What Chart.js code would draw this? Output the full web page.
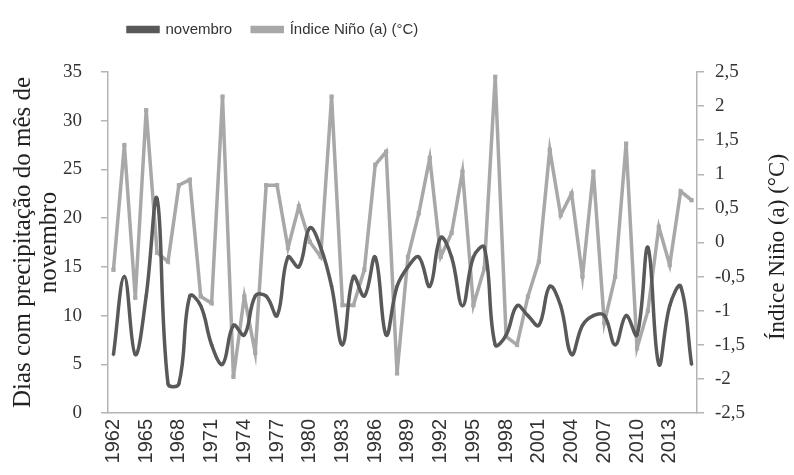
<!DOCTYPE html>
<html lang="pt-BR">
<head>
    <meta charset="UTF-8">
    <title>Dias com precipitação em novembro e Índice Niño</title>
    <script src="https://cdn.jsdelivr.net/npm/chart.js"></script>
    <style>
        body {
            margin: 0;
            background: #ffffff;
        }
    </style>
</head>
<body>
    <canvas id="grafico" width="794" height="475"></canvas>

    <script>
        // Anos (1962 a 2015)
        const anos = [];
        for (let a = 1962; a <= 2015; a++) anos.push(String(a));

        // Dias com precipitação no mês de novembro
        const novembro = [
            6, 14, 6, 12, 22, 3, 3, 12, 11, 7,
            5, 9, 8, 12, 12, 10, 16, 15, 19, 17,
            13, 7, 14, 12, 16, 8, 13, 15, 16, 13,
            18, 16, 11, 16, 17, 7, 8, 11, 10, 9,
            13, 11, 6, 9, 10, 10, 7, 10, 8, 17,
            5, 11, 13, 5
        ];

        // Índice Niño (a) em °C
        const indiceNino = [
            -0.40, 1.43, -0.81, 1.94, -0.15, -0.28, 0.84, 0.92, -0.79, -0.89,
            2.14, -1.97, -0.79, -1.62, 0.84, 0.84, -0.08, 0.53, 0.01, -0.21,
            2.14, -0.92, -0.92, -0.40, 1.14, 1.33, -1.92, -0.21, 0.43, 1.24,
            -0.21, 0.14, 1.04, -0.92, -0.38, 2.43, -1.38, -1.50, -0.79, -0.28,
            1.36, 0.40, 0.72, -0.50, 1.04, -1.18, -0.50, 1.45, -1.55, -1.00,
            0.23, -0.33, 0.75, 0.62
        ];

        const corEscura = '#595959';
        const corClara = '#a8a8a8';
        const corEixo = '#b4b4b4';
        const serif = "'Liberation Serif', 'Times New Roman', serif";
        const sans = "'Liberation Sans', Arial, sans-serif";

        // Sobe a legenda para o topo (fica alinhada à área do gráfico)
        const ajusteLegenda = {
            id: 'ajusteLegenda',
            afterLayout(chart) {
                const leg = chart.legend;
                if (leg) {
                    const d = leg.top - 2;
                    leg.top -= d;
                    leg.bottom -= d;
                }
            }
        };

        // Título do eixo direito, lido de baixo para cima
        const tituloDireito = {
            id: 'tituloDireito',
            afterDraw(chart) {
                const c = chart.ctx;
                c.save();
                c.translate(778, 247);
                c.rotate(-Math.PI / 2);
                c.font = '23px ' + serif;
                c.fillStyle = '#222';
                c.textAlign = 'center';
                c.textBaseline = 'middle';
                c.fillText('Índice Niño (a) (°C)', 0, 0);
                c.restore();
            }
        };

        const ctx = document.getElementById('grafico').getContext('2d');
        new Chart(ctx, {
            type: 'line',
            data: {
                labels: anos,
                datasets: [{
                    label: 'novembro',
                    data: novembro,
                    yAxisID: 'y',
                    borderColor: corEscura,
                    backgroundColor: corEscura,
                    borderWidth: 3.5,
                    tension: 0.4,
                    pointStyle: 'rectRot',
                    pointRadius: 2,
                    pointBorderWidth: 0
                }, {
                    label: 'Índice Niño (a) (°C)',
                    data: indiceNino,
                    yAxisID: 'y1',
                    borderColor: corClara,
                    backgroundColor: corClara,
                    borderWidth: 3.5,
                    tension: 0,
                    pointStyle: 'rect',
                    pointRadius: 3,
                    pointBorderWidth: 0
                }]
            },
            options: {
                responsive: false,
                animation: false,
                layout: { padding: 0 },
                plugins: {
                    legend: {
                        position: 'top',
                        align: 'start',
                        fullSize: false,
                        labels: {
                            boxWidth: 30,
                            boxHeight: 4,
                            padding: 20,
                            color: '#333',
                            font: { size: 15, family: sans }
                        }
                    },
                    tooltip: { enabled: false }
                },
                scales: {
                    x: {
                        type: 'category',
                        offset: true,
                        grid: { display: false, drawTicks: false },
                        border: { display: true, color: corEixo, width: 1.5 },
                        ticks: {
                            autoSkip: false,
                            maxRotation: 90,
                            minRotation: 90,
                            padding: 6,
                            color: '#333',
                            font: { size: 20, family: sans },
                            callback: function(valor, i) {
                                return i % 3 === 0 ? this.getLabelForValue(valor) : '';
                            }
                        },
                        afterFit: function(escala) { escala.height = 62; }
                    },
                    y: {
                        position: 'left',
                        min: 0,
                        max: 35,
                        grid: {
                            drawOnChartArea: false,
                            drawTicks: true,
                            tickLength: 7,
                            color: corEixo,
                            lineWidth: 1.5
                        },
                        border: { color: corEixo, width: 1.5 },
                        ticks: {
                            stepSize: 5,
                            padding: 19,
                            color: '#333',
                            font: { size: 19, family: serif }
                        },
                        title: {
                            display: true,
                            text: ['Dias com precipitação do mês de', 'novembro'],
                            color: '#222',
                            font: { size: 25, family: serif, lineHeight: 1.05 },
                            padding: { top: 10, bottom: 0 }
                        },
                        afterFit: function(escala) {
                            escala.width = 108;
                            escala.paddingTop = 72;
                        }
                    },
                    y1: {
                        position: 'right',
                        min: -2.5,
                        max: 2.5,
                        grid: {
                            drawOnChartArea: false,
                            drawTicks: true,
                            tickLength: 7,
                            color: corEixo,
                            lineWidth: 1.5
                        },
                        border: { color: corEixo, width: 1.5 },
                        ticks: {
                            stepSize: 0.5,
                            padding: 11,
                            color: '#333',
                            font: { size: 19, family: serif },
                            callback: v => String(Math.round(v * 10) / 10).replace('.', ',')
                        },
                        afterFit: function(escala) {
                            escala.width = 97;
                            escala.paddingTop = 72;
                        }
                    }
                }
            },
            plugins: [ajusteLegenda, tituloDireito]
        });
    </script>
</body>
</html>
